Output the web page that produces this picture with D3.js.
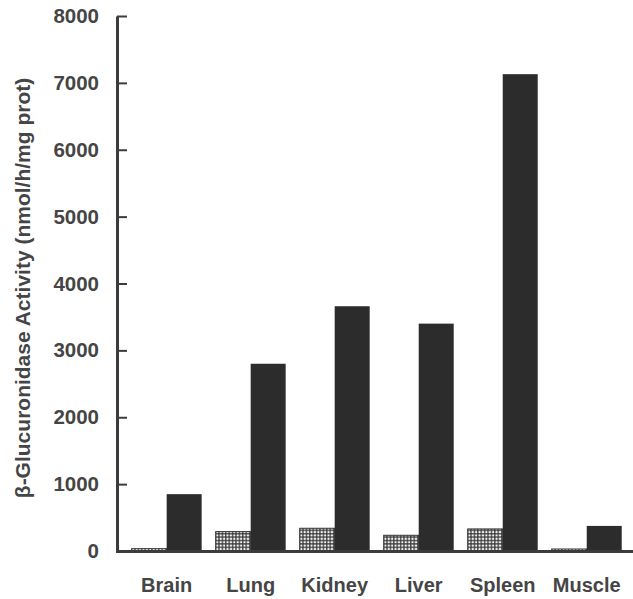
<!DOCTYPE html>
<html>
<head>
<meta charset="utf-8">
<script src="https://cdn.jsdelivr.net/npm/d3@7/dist/d3.min.js"></script>
<style>
  html, body { margin: 0; padding: 0; background: #fff; }
  svg { display: block; }
  text { font-family: "Liberation Sans", Arial, Helvetica, sans-serif; font-weight: bold; fill: #454545; }
</style>
</head>
<body>
<div id="chart"></div>
<script>
// β-glucuronidase activity per tissue (nmol/h/mg protein)
const tissues = ["Brain", "Lung", "Kidney", "Liver", "Spleen", "Muscle"];
const seriesKeys = ["control", "treated"];
const controlValues = [35, 290, 340, 235, 330, 30];
const treatedValues = [850, 2800, 3660, 3400, 7130, 375];
const yTicks = [0, 1000, 2000, 3000, 4000, 5000, 6000, 7000, 8000];
const yTitle = "β-Glucuronidase Activity  (nmol/h/mg prot)";

const W = 633, H = 599;
const dark = "#2c2c2c";
const axisColor = "#3c3c3c";

const svg = d3.select("#chart").append("svg")
  .attr("width", W).attr("height", H);

// Dotted fill for the low series
const defs = svg.append("defs");
const pat = defs.append("pattern")
  .attr("id", "dots")
  .attr("patternUnits", "userSpaceOnUse")
  .attr("width", 3.4).attr("height", 3.4);
pat.append("rect").attr("width", 3.4).attr("height", 3.4).attr("fill", "#333");
pat.append("rect").attr("x", 0.5).attr("y", 0.5).attr("width", 2.2).attr("height", 2.2).attr("fill", "#f4f4f4");

const y = d3.scaleLinear().domain([0, 8000]).range([551, 16]);
const x0 = d3.scaleBand().domain(tissues).range([124.7, 628.7])
  .paddingInner(0.167).paddingOuter(0.083);
const x1 = d3.scaleBand().domain(seriesKeys).range([0, x0.bandwidth()]).padding(0);

const rows = tissues.map((t, i) => ({
  tissue: t,
  values: [
    { key: "control", v: controlValues[i] },
    { key: "treated", v: treatedValues[i] }
  ]
}));

// Bars
const groups = svg.append("g").selectAll("g")
  .data(rows).join("g")
  .attr("transform", d => `translate(${x0(d.tissue)},0)`);

groups.selectAll("rect")
  .data(d => d.values).join("rect")
  .attr("x", d => x1(d.key))
  .attr("width", x1.bandwidth())
  .attr("y", d => y(d.v))
  .attr("height", d => y(0) - y(d.v))
  .attr("fill", d => d.key === "control" ? "url(#dots)" : dark)
  .attr("stroke", d => d.key === "control" ? "#333" : "none")
  .attr("stroke-width", 1);

// Y axis with inward ticks
const yAxis = d3.axisLeft(y).tickValues(yTicks)
  .tickSizeInner(-10).tickSizeOuter(0).tickPadding(18)
  .tickFormat(d3.format("d"));
const ya = svg.append("g").attr("transform", "translate(117,0)").call(yAxis);
ya.select(".domain").attr("stroke", axisColor).attr("stroke-width", 3);
ya.selectAll(".tick line").attr("stroke", axisColor).attr("stroke-width", 2);
ya.selectAll(".tick text")
  .attr("font-size", 20.5)
  .attr("font-family", "Liberation Sans, Arial, sans-serif")
  .attr("font-weight", "bold")
  .attr("fill", "#454545");

// Baseline
svg.append("line")
  .attr("x1", 116).attr("x2", W)
  .attr("y1", y(0) + 0.5).attr("y2", y(0) + 0.5)
  .attr("stroke", axisColor).attr("stroke-width", 3);

// Category labels
svg.append("g").selectAll("text")
  .data(tissues).join("text")
  .attr("x", d => x0(d) + x0.bandwidth() / 2)
  .attr("y", 592)
  .attr("text-anchor", "middle")
  .attr("font-size", 20)
  .text(d => d);

// Y axis title
svg.append("text")
  .attr("transform", "translate(30,288) rotate(-90)")
  .attr("text-anchor", "middle")
  .attr("font-size", 21)
  .text(yTitle);
</script>
</body>
</html>
